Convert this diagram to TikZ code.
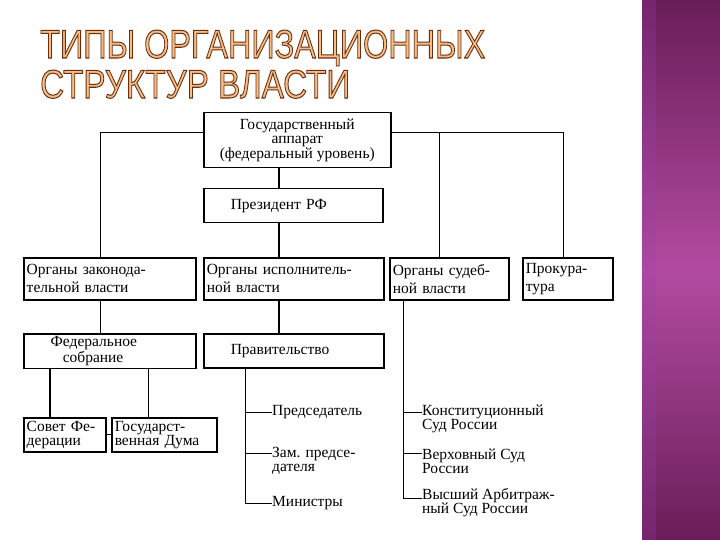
\documentclass[tikz,border=0pt]{standalone}
\usepackage{fontspec}
\setmainfont{Liberation Serif}
\newfontfamily\titlefont{Liberation Sans}
\usetikzlibrary{calc}
\definecolor{titlefill}{HTML}{F6BE86}
\definecolor{bartop}{HTML}{4A0A3A}
\definecolor{barmid}{HTML}{B24BA0}
\definecolor{barbot}{HTML}{4A0A3A}
\pgfdeclareverticalshading{purplebar}{100bp}{color(0bp)=(barbot); color(25bp)=(barbot!70!barmid); color(50bp)=(barmid); color(75bp)=(bartop!70!barmid); color(100bp)=(bartop)}
\newcommand{\outlinetext}[1]{\titlefont\color{titlefill}\special{pdf:literal direct 2 Tr 0.25 w 0.42 0.18 0.06 RG}#1\special{pdf:literal direct 0 Tr}}
\begin{document}
\begin{tikzpicture}[x=1pt,y=-1pt,
  box/.style={draw, line width=1.5pt, anchor=north west, inner sep=3pt,
    font=\fontsize{15.5}{14}\selectfont},
  conn/.style={line width=1pt},
  thickconn/.style={line width=1.6pt},
  lbl/.style={anchor=west, inner sep=0pt, align=left, font=\fontsize{15.5}{14}\selectfont}]
\useasboundingbox (0,0) rectangle (720,540);
\fill[white] (0,0) rectangle (720,540);
% purple bar
\shade[shading=purplebar] (642,0) rectangle (720,540);
\fill[barmid!85!blue, opacity=0.25] (642,0) rectangle (656,540);
% title
\node[anchor=base west, inner sep=0pt] (t1) at (40,58) {\resizebox{445pt}{28pt}{\outlinetext{ТИПЫ ОРГАНИЗАЦИОННЫХ}}};
\node[anchor=base west, inner sep=0pt] (t2) at (40,98) {\resizebox{310pt}{28pt}{\outlinetext{СТРУКТУР ВЛАСТИ}}};
% boxes
\node[box, minimum width=187pt, minimum height=55pt, align=center] (gos) at (203,112) {Государственный\\аппарат\\(федеральный уровень)};
\node[box, minimum width=179pt, minimum height=34pt, text width=173pt, align=left] (pres) at (203,188) {\hspace*{24pt}Президент РФ};
\node[box, minimum width=172pt, minimum height=42pt, text width=166pt, align=left, font=\fontsize{15.5}{18}\selectfont] (zak) at (23,257) {Органы законода-\\тельной власти};
\node[box, minimum width=180pt, minimum height=42pt, text width=174pt, align=left, font=\fontsize{15.5}{18}\selectfont] (isp) at (203,257) {Органы исполнитель-\\ной власти};
\node[box, minimum width=119pt, minimum height=42pt, text width=113pt, align=left, font=\fontsize{15.5}{18}\selectfont] (sud) at (389,257) {Органы судеб-\\ной власти};
\node[box, minimum width=90pt, minimum height=42pt, text width=84pt, align=left, font=\fontsize{15.5}{18}\selectfont] (prok) at (522,257) {Прокура-\\тура};
\node[box, minimum width=172pt, minimum height=34pt, text width=166pt, align=left] (fed) at (23,333) {\hspace*{24pt}Федеральное\\\hspace*{36pt}собрание};
\node[box, minimum width=180pt, minimum height=34pt, text width=174pt, align=left] (prav) at (203,333) {\hspace*{24pt}Правительство};
\node[box, minimum width=82pt, minimum height=34pt, text width=76pt, align=left] (sov) at (23,417) {Совет Фе-\\дерации};
\node[box, minimum width=105pt, minimum height=34pt, text width=99pt, align=left] (duma) at (111,417) {Государст-\\венная Дума};
% text labels
\node[lbl] (pred) at (272,412) {Председатель};
\node[lbl] (zam) at (272,461) {Зам. предсе-\\дателя};
\node[lbl] (min) at (272,503) {Министры};
\node[lbl] (ks) at (422,419) {Конституционный\\Суд России};
\node[lbl] (vs) at (422,461) {Верховный Суд\\России};
\node[lbl] (vas) at (422,503) {Высший Арбитраж-\\ный Суд России};
% coordinates
\coordinate (cL) at (100,133);
\coordinate (cS) at (439,133);
\coordinate (cP) at (563,133);
\coordinate (cV) at (279,200);
\coordinate (cSF) at (50,400);
\coordinate (cGD) at (148,400);
\coordinate (cPr) at (245,400);
\coordinate (cSd) at (403,400);
% connectors
\draw[conn] (gos.west |- cL) -- (cL) -- (cL |- zak.north);
\draw[conn] (gos.east |- cP) -- (cP) -- (cP |- prok.north);
\draw[conn] (cS) -- (cS |- sud.north);
\draw[thickconn] (gos.south -| cV) -- (pres.north -| cV);
\draw[thickconn] (pres.south -| cV) -- (isp.north -| cV);
\draw[thickconn] (isp.south -| cV) -- (prav.north -| cV);
\draw[conn] (zak.south -| cL) -- (fed.north -| cL);
\draw[thickconn] (fed.south -| cSF) -- (sov.north -| cSF);
\draw[conn] (fed.south -| cGD) -- (duma.north -| cGD);
\draw[conn] (sov.east) -- (duma.west);
\draw[conn] (prav.south -| cPr) |- (min.west);
\draw[conn] (cPr |- pred.west) -- (pred.west);
\draw[conn] (cPr |- 0,453) -- (zam.west |- 0,453);
\draw[conn] (sud.south -| cSd) |- (vas.west |- 0,498);
\draw[conn] (cSd |- 0,412) -- (ks.west |- 0,412);
\draw[conn] (cSd |- 0,453) -- (vs.west |- 0,453);
\end{tikzpicture}
\end{document}
